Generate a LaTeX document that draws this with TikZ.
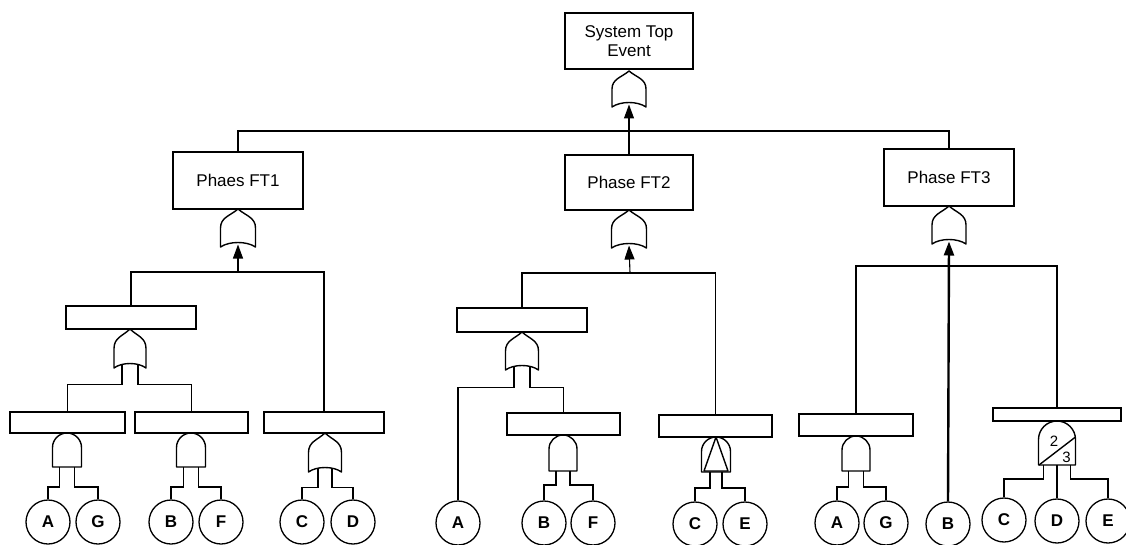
\documentclass[tikz,border=0pt]{standalone}
\usepackage{fontspec}
\setmainfont{Liberation Sans}
\usetikzlibrary{arrows.meta}

% OR gate: name, cx, ytop, ybot, half width, leg offset
\newcommand\FTOrGate[6]{%
 \draw[gate] ({#2-#5},#4) -- ({#2-#5},{#3+0.5*(#4-#3)})
   .. controls ({#2-#5},{#3+0.22*(#4-#3)}) and ({#2-0.45*#5},{#3+0.18*(#4-#3)}) .. (#2,#3)
   .. controls ({#2+0.45*#5},{#3+0.18*(#4-#3)}) and ({#2+#5},{#3+0.22*(#4-#3)}) .. ({#2+#5},{#3+0.5*(#4-#3)})
   -- ({#2+#5},#4) .. controls ({#2+0.5*#5},{#4-6}) and ({#2-0.5*#5},{#4-6}) .. cycle;
 \coordinate (#1-in) at (#2,{#4-2.5});
 \coordinate (#1-l) at ({#2-#6},{#4-3.5});
 \coordinate (#1-r) at ({#2+#6},{#4-3.5});
}
% AND gate: name, cx, ytop, ybot, half width, leg offset
\newcommand\FTAndGate[6]{%
 \draw[gate] ({#2-#5},#4) -- ({#2-#5},{#3+#5})
   .. controls ({#2-#5},{#3+0.45*#5}) and ({#2-0.55*#5},#3) .. (#2,#3)
   .. controls ({#2+0.55*#5},#3) and ({#2+#5},{#3+0.45*#5}) .. ({#2+#5},{#3+#5})
   -- ({#2+#5},#4) -- cycle;
 \coordinate (#1-l) at ({#2-#6},#4);
 \coordinate (#1-m) at (#2,#4);
 \coordinate (#1-r) at ({#2+#6},#4);
}

\begin{document}
\begin{tikzpicture}[x=1pt,y=-1pt,
  gate/.style={line width=1.4pt, line join=round},
  box/.style={draw, rectangle, line width=1.6pt, inner sep=0pt, align=center,
    font=\fontsize{17}{19}\selectfont},
  evt/.style={draw, circle, line width=1.3pt, minimum size=44pt, inner sep=0pt,
    font=\fontsize{17}{17}\selectfont\bfseries},
  conn/.style={line width=1.1pt},
  arr/.style={conn, -{Triangle[length=14pt,width=10pt]}},
  num/.style={inner sep=0pt, font=\fontsize{15}{15}\selectfont}
]
\useasboundingbox (0,0) rectangle (1126,545);

% ---- boxes ----
\node[box, minimum width=128pt, minimum height=56pt] (top) at (629,41) {System Top\\Event};
\node[box, minimum width=130pt, minimum height=57pt] (ft1) at (238,180.5) {Phaes FT1};
\node[box, minimum width=128pt, minimum height=55pt] (ft2) at (629,182.5) {Phase FT2};
\node[box, minimum width=130pt, minimum height=57pt] (ft3) at (949,177.5) {Phase FT3};

\node[box, minimum width=130pt, minimum height=23pt] (i1) at (131,317.5) {};
\node[box, minimum width=115pt, minimum height=21pt] (i2) at (67.5,422.5) {};
\node[box, minimum width=113pt, minimum height=21pt] (i3) at (191.5,422.5) {};
\node[box, minimum width=120pt, minimum height=21pt] (i4) at (324,422.5) {};

\node[box, minimum width=130pt, minimum height=24pt] (j1) at (522,320) {};
\node[box, minimum width=113pt, minimum height=22pt] (j2) at (563.5,424) {};
\node[box, minimum width=113pt, minimum height=22pt] (j3) at (715.5,426) {};

\node[box, minimum width=114pt, minimum height=22pt] (k1) at (856,425) {};
\node[box, minimum width=128pt, minimum height=13pt] (k2) at (1057,414.5) {};

% ---- basic events ----
\node[evt] (c1A) at (48,522) {A};
\node[evt] (c1G) at (98,522) {G};
\node[evt] (c1B) at (171,522) {B};
\node[evt] (c1F) at (221,522) {F};
\node[evt] (c1C) at (302,522) {C};
\node[evt] (c1D) at (353,522) {D};

\node[evt] (c2A) at (458,523) {A};
\node[evt] (c2B) at (544,523) {B};
\node[evt] (c2F) at (593,523) {F};
\node[evt] (c2C) at (695,524) {C};
\node[evt] (c2E) at (745,524) {E};

\node[evt] (c3A) at (837,523) {A};
\node[evt] (c3G) at (886,523) {G};
\node[evt] (c3B) at (948,524) {B};
\node[evt] (c3C) at (1004,520) {C};
\node[evt] (c3D) at (1057,521) {D};
\node[evt] (c3E) at (1108,521) {E};

% ---- gates ----
\FTOrGate{g0}{629}{71}{107}{17}{7}
\FTOrGate{g1}{238}{209}{247}{17.5}{7}
\FTOrGate{g2}{629}{210}{248}{17.5}{7}
\FTOrGate{g3}{949}{206}{244}{17}{7}

\FTOrGate{ga}{130}{329}{368}{16}{8}
\FTAndGate{gag}{67}{433}{467}{14.5}{7.5}
\FTAndGate{gbf}{191}{433}{467}{14.5}{7.5}
\FTOrGate{gcd}{325}{433}{472}{16.5}{7}

\FTOrGate{gj1}{522}{332}{370}{16.5}{8}
\FTAndGate{gj2}{563}{435}{471}{14}{7}
\FTAndGate{gj3}{716}{437}{472}{14.5}{6}
\draw[gate] (716,437) -- (704,471) -- (728,471) -- cycle;

\FTAndGate{gk1}{856}{436}{471}{14}{7.5}
\FTAndGate{gv}{1057}{421}{465}{18.5}{13.5}
\draw[gate] (1039,465) -- (1075.5,437);
\node[num] (v2) at (1054,441) {2};
\node[num] (v3) at (1066.5,457) {3};

% ---- connectors: top ----
\coordinate (bus0) at (629,131);
\draw[conn] (ft1.north) |- (bus0) -| (ft3.north);
\draw[arr] (ft2.north) -- (g0-in);

% ---- Phase FT1 ----
\coordinate (bus1) at (238,272);
\draw[conn] (i1.north) |- (bus1) -| (i4.north);
\draw[arr] (bus1) -- (g1-in);
\draw[conn] (ga-l) -- ++(0,20) -| (i2.north);
\draw[conn] (ga-r) -- ++(0,20) -| (i3.north);
\draw[conn] (gag-l) -- ++(0,20) -| (c1A.north);
\draw[conn] (gag-r) -- ++(0,20) -| (c1G.north);
\draw[conn] (gbf-l) -- ++(0,20) -| (c1B.north);
\draw[conn] (gbf-r) -- ++(0,20) -| (c1F.north);
\draw[conn] (gcd-l) -- ++(0,19) -| (c1C.north);
\draw[conn] (gcd-r) -- ++(0,19) -| (c1D.north);

% ---- Phase FT2 ----
\coordinate (bus2) at (630,273);
\draw[conn] (j1.north) |- (bus2) -| (j3.north);
\draw[arr] (bus2) -- (g2-in);
\draw[conn] (gj1-l) -- ++(0,21) -| (c2A.north);
\draw[conn] (gj1-r) -- ++(0,21) -| (j2.north);
\draw[conn] (gj2-l) -- ++(0,14) -| (c2B.north);
\draw[conn] (gj2-r) -- ++(0,14) -| (c2F.north);
\draw[conn] (gj3-l) -- ++(0,16) -| (c2C.north);
\draw[conn] (gj3-r) -- ++(0,16) -| (c2E.north);

% ---- Phase FT3 ----
\coordinate (bus3) at (948,266);
\draw[conn] (k1.north) |- (bus3) -| (k2.north);
\draw[arr, line width=2.4pt] (c3B.north) -- (g3-in);
\draw[conn] (gk1-l) -- ++(0,16) -| (c3A.north);
\draw[conn] (gk1-r) -- ++(0,16) -| (c3G.north);
\draw[conn] (gv-l) -- ++(0,14) -| (c3C.north);
\draw[conn] (gv-m) -- (c3D.north);
\draw[conn] (gv-r) -- ++(0,14) -| (c3E.north);
\end{tikzpicture}
\end{document}
